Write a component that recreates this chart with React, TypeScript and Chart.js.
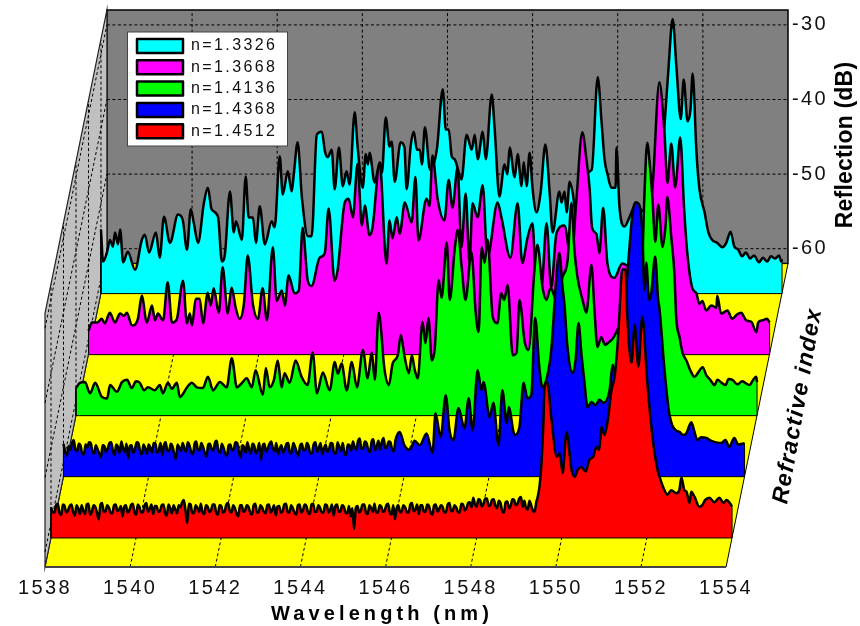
import React, { useEffect, useRef } from "react";
import { Chart, registerables } from "chart.js";

Chart.register(...registerables);

const FONT = "'Liberation Sans', Arial, sans-serif";
const xTickValues = [1538, 1540, 1542, 1544, 1546, 1548, 1550, 1552, 1554];
const yTickValues = [-30, -40, -50, -60];

// shared sampling of the low-level noise floor (nm)
const noiseWl = [
  1538.0,1538.08,1538.16,1538.24,1538.32,1538.4,1538.48,1538.56,1538.64,1538.72,
  1538.8,1538.88,1538.96,1539.04,1539.12,1539.2,1539.28,1539.36,1539.44,1539.52,
  1539.6,1539.68,1539.76,1539.84,1539.92,1540.0,1540.08,1540.16,1540.24,1540.32,
  1540.4,1540.48,1540.56,1540.64,1540.72,1540.8,1540.88,1540.96,1541.04,1541.12,
  1541.2,1541.28,1541.36,1541.44,1541.52,1541.6,1541.68,1541.76,1541.84,1541.92,
  1542.0,1542.08,1542.16,1542.24,1542.32,1542.4,1542.48,1542.56,1542.64,1542.72,
  1542.8,1542.88,1542.96,1543.04,1543.12,1543.2,1543.28,1543.36,1543.44,1543.52,
  1543.6,1543.68,1543.76,1543.84,1543.92,1544.0,1544.08,1544.16,1544.24,1544.32,
  1544.4,1544.48,1544.56,1544.64,1544.72,1544.8,1544.88,1544.96,1545.04,1545.12,
  1545.2,1545.28,1545.36,1545.44,1545.52,1545.6,1545.68,1545.76,1545.84,1545.92,
  1546.0,1546.08,1546.16,1546.24,1546.32,1546.4,1546.48,1546.56,1546.64,1546.72,
  1546.8,1546.88,1546.96,1547.04,1547.12,1547.2,1547.28,1547.36,1547.44,1547.52,
  1547.6,1547.68,1547.76,1547.84,1547.92,1548.0,1548.08,1548.16,1548.24,1548.32,
  1548.4,1548.48,1548.56,1548.64,1548.72,1548.8,1548.88,1548.96,1549.04,1549.12,
  1549.2,1549.28,1549.36,
];
const noiseMidWl = [
  1538.04,1538.12,1538.2,1538.28,1538.36,1538.44,1538.52,1538.6,1538.68,1538.76,
  1538.84,1538.92,1539.0,1539.08,1539.16,1539.24,1539.32,1539.4,1539.48,1539.56,
  1539.64,1539.72,1539.8,1539.88,1539.96,1540.04,1540.12,1540.2,1540.28,1540.36,
  1540.44,1540.52,1540.6,1540.68,1540.76,1540.84,1540.92,1541.0,1541.08,1541.16,
  1541.24,1541.32,1541.4,1541.48,1541.56,1541.64,1541.72,1541.8,1541.88,1541.96,
  1542.04,1542.12,1542.2,1542.28,1542.36,1542.44,1542.52,1542.6,1542.68,1542.76,
  1542.84,1542.92,1543.0,1543.08,1543.16,1543.24,1543.32,1543.4,1543.48,1543.56,
  1543.64,1543.72,1543.8,1543.88,1543.96,1544.04,1544.12,1544.2,1544.28,1544.36,
  1544.44,1544.52,1544.6,1544.68,1544.76,1544.84,1544.92,1545.0,1545.08,1545.16,
  1545.24,1545.32,1545.4,1545.48,1545.56,1545.64,1545.72,1545.8,1545.88,1545.96,
  1546.04,1546.12,1546.2,1546.28,1546.36,1546.44,1546.52,1546.6,1546.68,1546.76,
  1546.84,1546.92,1547.0,1547.08,1547.16,1547.24,1547.32,1547.4,1547.48,1547.56,
  1547.64,1547.72,1547.8,1547.88,1547.96,1548.04,1548.12,1548.2,1548.28,1548.36,
  1548.44,1548.52,1548.6,1548.68,1548.76,1548.84,1548.92,1549.0,1549.08,1549.16,
  1549.24,1549.32,1549.4,
];

const cyanWl = [
  1538.0,1538.05,1538.14,1538.21,1538.28,1538.33,1538.4,1538.45,1538.52,1538.63,1538.8,1538.96,1539.03,1539.13,1539.29,1539.38,1539.48,1539.62,1539.81,1539.92,
  1540.02,1540.11,1540.18,1540.28,1540.42,1540.51,1540.6,1540.75,1540.84,1540.91,1541.03,1541.12,1541.17,1541.31,1541.4,1541.47,1541.57,1541.64,1541.73,1541.85,
  1542.01,1542.08,1542.2,1542.27,1542.39,1542.48,1542.53,1542.62,1542.72,1542.86,1542.95,1543.07,1543.19,1543.26,1543.33,1543.42,1543.49,1543.59,1543.68,1543.77,1543.84,1543.96,
  1544.03,1544.15,1544.22,1544.27,1544.31,1544.43,1544.55,1544.6,1544.69,1544.78,1544.83,1544.9,1545.04,1545.13,1545.18,1545.28,1545.35,1545.42,1545.49,1545.54,1545.61,1545.73,1545.89,
  1546.03,1546.1,1546.17,1546.24,1546.31,1546.47,1546.59,1546.71,1546.78,1546.85,1546.97,1547.04,1547.18,1547.25,1547.36,1547.48,1547.55,1547.6,1547.72,1547.79,1547.88,1547.93,
  1548.0,1548.07,1548.14,1548.23,1548.33,1548.44,1548.54,1548.61,1548.77,1548.82,1548.89,1548.94,1549.01,1549.08,1549.2,1549.24,1549.53,1549.67,1549.76,1549.83,1549.9,1549.99,
  1550.09,1550.11,1550.18,1550.3,1550.42,1550.54,1550.89,1551.12,1551.24,1551.33,1551.43,1551.52,1551.62,1551.69,1551.78,1551.85,1551.9,1551.99,
  1552.06,1552.18,1552.27,1552.36,1552.48,1552.6,1552.69,1552.79,1552.88,1552.97,1553.06,1553.15,1553.25,1553.34,1553.46,1553.55,1553.65,1553.74,1553.83,1553.93,1553.98,1554.0,
];
const cyanDb = [
  -53.4,-57.7,-56.5,-54.8,-55.7,-53.8,-55.4,-53.4,-57.8,-56.4,-58.8,-54.8,-54.1,-56.5,-53.8,-57.2,-51.7,-55.2,-51.4,-52.1,
  -56.1,-50.7,-52.5,-55.2,-49.8,-47.8,-50.7,-51.7,-57.7,-56.8,-48.3,-53.8,-52.3,-54.8,-46.3,-51.8,-51.8,-55.2,-50.3,-55.4,
  -52.3,-53.1,-43.6,-48.7,-45.6,-48.3,-46,-41.7,-49.1,-54.3,-54.3,-40.7,-40.3,-42.9,-43.7,-42.7,-48,-42.4,-47.6,-45.6,-47.4,-37.7,
  -42.4,-47.8,-43.3,-44.7,-43.1,-47.1,-44.4,-45.8,-38.4,-42.3,-41.6,-47,-41.7,-42.4,-48,-42,-40.3,-42.7,-42.7,-44.7,-39.7,-45.4,-42.7,
  -34.6,-40,-40,-43.6,-44,-46.7,-40.7,-42.7,-40.7,-44,-40.3,-44,-35.3,-40,-49,-44.7,-46,-42.4,-46.4,-43.3,-47.6,-44.4,
  -47.6,-43.1,-48,-51.1,-48.4,-42,-48.4,-53.8,-48.3,-49.8,-48.3,-51.1,-47,-48.4,-53,-46.7,-45.4,-33,-39,-44,-46,-47.8,
  -47.8,-42.4,-50.3,-53,-51.7,-50.3,-51.4,-46.7,-39.3,-32,-25.2,-31.7,-38.6,-33.3,-38.9,-37.3,-32.5,-43.1,
  -48,-51.1,-53.8,-54.8,-55.2,-55.8,-55.2,-53.7,-55.7,-56.1,-57,-56.5,-57.3,-56.9,-57.8,-57.2,-57.7,-57,-57.3,-56.9,-57.7,-57.4,
];

const magentaWl = [
  1538.0,1538.08,1538.2,1538.31,1538.38,1538.5,1538.62,1538.74,1538.83,1538.9,1539.02,1539.16,1539.25,1539.37,1539.49,1539.56,1539.63,1539.75,1539.86,1539.96,
  1540.07,1540.22,1540.31,1540.38,1540.43,1540.52,1540.61,1540.69,1540.8,1540.87,1540.94,1541.06,1541.15,1541.27,1541.36,1541.46,1541.55,1541.65,1541.74,1541.86,1541.98,
  1542.09,1542.19,1542.33,1542.42,1542.54,1542.61,1542.7,1542.84,1542.94,1543.03,1543.15,1543.24,1543.43,1543.55,1543.64,1543.78,1543.85,
  1544.02,1544.11,1544.21,1544.32,1544.42,1544.49,1544.6,1544.67,1544.84,1545.0,1545.07,1545.14,1545.24,1545.31,1545.43,1545.59,1545.68,1545.75,1545.94,
  1546.01,1546.08,1546.2,1546.36,1546.46,1546.55,1546.67,1546.76,1546.86,1546.95,1547.02,1547.14,1547.26,1547.37,1547.61,1547.7,1547.91,
  1548.08,1548.19,1548.31,1548.43,1548.52,1548.64,1548.76,1548.87,1548.99,1549.18,1549.34,1549.46,1549.6,1549.7,1549.77,1549.83,1549.93,
  1550.0,1550.09,1550.19,1550.35,1550.54,1550.75,1550.94,1551.13,1551.25,1551.41,1551.53,1551.6,1551.69,1551.78,1551.9,1551.99,
  1552.06,1552.18,1552.28,1552.35,1552.42,1552.51,1552.63,1552.75,1552.77,1552.86,1553.01,1553.12,1553.24,1553.33,1553.45,1553.57,1553.69,1553.73,1553.83,1553.94,1554.0,
];
const magentaDb = [
  -58.8,-57.7,-57.7,-57.2,-57.8,-56.4,-57.7,-56.5,-56.8,-56.4,-58.1,-57.2,-54.1,-57.7,-55.4,-57.4,-56.5,-57.4,-52.3,-57.7,
  -57.3,-52.1,-57.8,-56.5,-58.1,-54.5,-54.5,-57.8,-53.7,-55.4,-53.1,-56.4,-50.3,-56.5,-53,-55.8,-57.2,-55.2,-48.7,-55.2,-57.2,
  -53.1,-57.4,-47.6,-54.8,-53.4,-55.4,-51.4,-53.8,-53.4,-45,-52.1,-52.8,-49,-48.4,-42.4,-52.1,-50.7,
  -41.6,-41.1,-43.6,-36.4,-44.7,-42,-46,-45,-36.4,-49.8,-44,-46.4,-43.6,-45.8,-41.6,-44.3,-38.2,-46.7,-41.1,
  -42.1,-35.3,-41.1,-44,-38.6,-42.3,-36.9,-47.6,-40.4,-49.7,-41.7,-43.6,-39.3,-49,-41.6,-43.6,-49,
  -41.7,-49.7,-46.4,-44.4,-53,-53,-44.4,-53,-45.8,-44.7,-49.4,-41.3,-32.2,-36,-39.6,-45,-45.8,
  -48.4,-42.3,-49.8,-51.7,-49.8,-50.3,-48.7,-44.7,-39.6,-25.5,-32.3,-39,-33.7,-39.6,-32.9,-42.3,
  -48,-53,-53.8,-55.2,-54.8,-56.1,-55.4,-55.7,-54.1,-56.5,-56.1,-57.2,-56.6,-56.4,-57.4,-57.6,-59,-57.7,-57.4,-57.2,-57.7,
];

const greenWl = [
  1538.0,1538.09,1538.21,1538.33,1538.45,1538.61,1538.73,1538.8,1538.96,1539.08,1539.2,1539.31,1539.41,1539.5,1539.6,1539.69,1539.85,1539.97,
  1540.04,1540.16,1540.25,1540.37,1540.44,1540.61,1540.72,1540.84,1540.98,1541.1,1541.22,1541.38,1541.54,1541.66,1541.78,1541.9,
  1542.01,1542.13,1542.22,1542.39,1542.46,1542.55,1542.65,1542.74,1542.83,1542.9,1543.02,1543.16,1543.3,1543.44,1543.56,1543.66,1543.8,1543.96,
  1544.08,1544.15,1544.24,1544.36,1544.48,1544.6,1544.74,1544.85,1544.95,1545.02,1545.11,1545.25,1545.35,1545.44,1545.56,1545.63,1545.72,1545.82,1545.89,1545.96,
  1546.03,1546.14,1546.21,1546.28,1546.36,1546.43,1546.52,1546.59,1546.71,1546.78,1546.9,1546.97,1547.06,1547.15,1547.29,1547.39,1547.46,1547.53,1547.6,1547.67,1547.79,1547.9,1547.99,
  1548.06,1548.14,1548.26,1548.35,1548.42,1548.54,1548.63,1548.77,1548.84,1548.96,1549.05,1549.15,1549.29,1549.43,1549.55,1549.64,1549.71,1549.78,1549.9,1549.99,
  1550.11,1550.18,1550.25,1550.34,1550.43,1550.53,1550.62,1550.72,1550.81,1551.0,1551.19,1551.31,1551.35,1551.42,1551.49,1551.54,1551.61,1551.68,1551.78,1551.85,1551.89,1551.99,
  1552.06,1552.1,1552.18,1552.25,1552.34,1552.43,1552.53,1552.62,1552.72,1552.81,1552.9,1553.0,1553.07,1553.17,1553.26,1553.33,1553.42,1553.54,1553.65,1553.82,1553.91,1553.98,1554.0,
];
const greenDb = [
  -58.3,-57.6,-57.5,-59,-57.6,-59.5,-59.7,-57.9,-58.8,-57.5,-57.2,-58.3,-57.4,-57.6,-58.6,-58.2,-58.6,-57.9,
  -59,-57.6,-58.4,-57.6,-59.5,-58.2,-57.6,-58.2,-58.3,-56.8,-58.6,-57.5,-58.2,-54.3,-58.2,-57.6,
  -57,-58.2,-55.9,-59.2,-55.6,-58.2,-57.2,-54.6,-58.2,-56.3,-57.6,-54.6,-56.8,-57.9,-53.5,-59,-56.2,-58.6,
  -54.8,-56.4,-55,-58.6,-54.8,-58.2,-53.2,-57,-53.5,-57.2,-48.2,-55.9,-57.9,-55,-53.9,-51.2,-54.1,-56.3,-53.9,-55.9,
  -57,-49.4,-52.3,-48.9,-54.6,-52.9,-43.8,-46.2,-38.8,-46.5,-39.5,-37.1,-42.1,-46.5,-40.1,-48.2,-50.8,-39.4,-41.5,-38.4,-48.8,-49.6,-45.6,
  -46.5,-44.5,-53.9,-53.6,-46.5,-52.1,-53.2,-42.5,-39.1,-44.8,-46.5,-44.9,-46.5,-43.4,-41.1,-33.5,-39.8,-43.4,-46.5,-48.2,
  -41.8,-47.8,-52.8,-51.5,-52.5,-52.1,-51.6,-50.5,-49.2,-46.5,-43.8,-40.2,-33.1,-25.4,-29,-32.7,-38.7,-33.7,-39.4,-36.5,-32.7,-38.4,
  -43.1,-48.8,-51.5,-53.6,-54.6,-55.9,-56.8,-56.2,-55.5,-56.6,-57.2,-57.9,-57.2,-57.6,-57.9,-57.1,-57.2,-57.8,-57.4,-57.9,-57.2,-56.8,-57.5,
];

const blueNoiseDb = [
  -57.6,-59.2,-58.4,-57.1,-58.6,-57.8,-59.0,-58.1,-57.5,-58.9,
  -58.3,-59.4,-57.9,-58.2,-57.4,-59.1,-58.0,-57.3,-58.7,-59.5,
  -57.8,-58.3,-57.5,-59.0,-58.2,-57.7,-58.8,-57.6,-58.4,-59.1,
  -57.4,-58.6,-57.9,-59.6,-58.1,-57.5,-58.7,-57.8,-59.0,-57.3,
  -58.4,-58.0,-59.3,-57.6,-58.5,-57.2,-58.8,-58.1,-59.2,-57.7,
  -58.3,-57.5,-59.4,-58.0,-57.4,-58.9,-57.8,-58.4,-59.7,-57.6,
  -58.2,-57.3,-58.6,-59.0,-57.8,-58.3,-57.5,-58.7,-58.0,-59.2,
  -57.6,-58.4,-57.9,-58.8,-57.4,-58.1,-59.0,-57.7,-58.3,-57.6,
  -58.9,-58.0,-57.5,-59.1,-57.8,-57.3,-58.4,-56.9,-58.2,-57.5,
  -58.7,-57.0,-57.9,-58.4,-56.8,-58.0,-57.4,-58.6,
];
const blueNoiseMidDb = [
  -58.7,-57.9,-57.5,-58.4,-57.6,-58.9,-57.7,-57.4,-58.6,-57.8,
  -58.9,-57.8,-58.7,-57.5,-58.5,-57.7,-58.8,-58.2,-57.6,-57.9,
  -58.8,-57.4,-58.6,-57.7,-58.9,-58.1,-57.5,-58.8,-57.5,-57.8,
  -58.5,-57.6,-58.9,-57.7,-58.6,-58.2,-57.4,-58.7,-57.6,-58.5,
  -57.5,-58.8,-57.7,-58.3,-57.4,-58.6,-57.6,-58.9,-57.8,-58.5,
  -57.4,-58.6,-57.8,-58.8,-58.3,-57.6,-58.9,-57.5,-57.9,-58.7,
  -57.6,-58.2,-57.5,-58.2,-58.8,-57.6,-58.9,-57.5,-58.7,-57.8,
  -58.5,-57.5,-58.9,-57.6,-58.7,-57.5,-58.2,-58.7,-57.5,-58.9,
  -57.4,-58.6,-58.8,-57.7,-58.5,-58.0,-57.2,-58.3,-57.3,-58.4,
  -57.3,-58.5,-57.2,-57.3,-58.2,-57.3,-58.3,-57.1,
];
const bluePeakWl = [
  1545.9,1546.01,1546.13,1546.25,1546.37,1546.53,1546.67,1546.74,1546.86,1546.98,1547.07,1547.16,1547.28,1547.42,1547.52,1547.61,1547.73,1547.82,1547.87,
  1548.01,1548.1,1548.22,1548.31,1548.41,1548.46,1548.6,1548.71,1548.81,1548.9,1548.99,1549.08,1549.18,1549.25,1549.37,1549.46,1549.58,1549.65,1549.72,1549.77,1549.84,1549.96,
  1550.03,1550.1,1550.17,1550.24,1550.31,1550.4,1550.5,1550.59,1550.69,1550.83,1550.9,1550.99,1551.11,1551.22,1551.37,1551.44,1551.53,1551.6,1551.65,1551.69,1551.76,1551.81,1551.9,1551.97,
  1552.0,1552.12,1552.23,1552.3,1552.39,1552.47,1552.56,1552.63,1552.75,1552.82,1552.89,1552.98,1553.1,1553.22,1553.33,1553.45,1553.55,1553.64,1553.76,1553.85,1554.0,
];
const bluePeakDb = [
  -56,-57.8,-58.4,-57.2,-57.8,-56.2,-58.8,-53.5,-56.7,-51.1,-55.8,-57.1,-52.8,-55.5,-51.5,-55.8,-47.7,-50.4,-49.3,
  -54,-52.1,-57.8,-50.4,-54.8,-52.7,-56.4,-55.4,-49.4,-51.5,-51.1,-40.7,-47.4,-50,-48.4,-45,-35.2,-32,-36.3,-39,-44.6,-48.1,
  -46.4,-41.4,-45.7,-49.4,-52.7,-52,-52.4,-51.7,-52.1,-50.4,-47,-48.6,-45,-37,-26.6,-25.2,-25.6,-29.3,-37,-33.3,-38.3,-37.4,-32.5,-38.3,
  -39.4,-47.7,-53.5,-55.1,-55.8,-56,-56.4,-56.2,-54.7,-55.9,-57.1,-56.7,-56.8,-57.2,-57.4,-57.5,-57.1,-58,-56.8,-57.7,-57.5,
];

const redNoiseDb = [
  -57.9,-58.6,-57.4,-58.9,-57.7,-58.3,-57.5,-59.0,-58.0,-57.6,
  -58.8,-57.4,-58.5,-57.8,-59.5,-57.3,-58.4,-57.9,-58.7,-57.5,
  -58.2,-59.1,-57.6,-58.3,-57.4,-58.9,-57.9,-58.5,-57.3,-58.1,
  -58.8,-57.7,-58.4,-57.5,-59.0,-58.0,-57.6,-58.7,-57.9,-56.9,
  -60.0,-57.5,-58.6,-58.0,-57.4,-58.8,-57.8,-58.3,-57.5,-58.9,
  -57.7,-58.4,-57.3,-58.6,-58.0,-59.1,-57.6,-58.3,-57.8,-58.9,
  -57.4,-58.5,-57.9,-58.7,-57.5,-58.2,-59.0,-57.7,-58.4,-57.4,
  -58.6,-58.0,-58.9,-57.5,-58.3,-57.7,-58.8,-57.4,-58.5,-57.9,
  -58.6,-57.6,-58.2,-59.0,-57.5,-58.4,-57.8,-58.7,-59.1,-60.8,
  -57.7,-58.3,-57.5,-58.8,-58.0,-57.4,-58.6,-57.8,-58.3,-57.4,
  -58.9,-59.5,-57.6,-58.4,-57.9,-58.6,-57.3,-58.2,-58.8,-57.6,
  -58.4,-57.7,-58.9,-57.5,-58.1,-57.8,-58.5,-57.3,-58.3,-57.9,
  -58.6,-57.5,-58.0,-57.2,-56.6,-57.8,-56.9,-57.4,-56.7,-57.6,
  -56.8,-58.0,-57.3,-58.6,-57.1,-57.7,-56.9,-57.4,-56.5,-57.0,
  -58.2,-57.6,-58.5,
];
const redNoiseMidDb = [
  -58.5,-57.6,-58.7,-57.5,-58.6,-57.7,-58.5,-57.6,-58.8,-58.4,
  -57.5,-58.9,-57.6,-58.6,-57.6,-58.5,-57.6,-58.6,-57.6,-58.4,
  -57.7,-57.8,-58.6,-57.6,-58.5,-57.5,-58.6,-57.6,-58.5,-57.5,
  -57.7,-58.5,-57.6,-58.6,-57.5,-58.7,-58.2,-57.6,-57.2,-58.3,
  -57.4,-58.7,-57.6,-58.5,-58.6,-57.6,-58.5,-57.5,-58.6,-57.6,
  -58.6,-57.5,-58.4,-57.6,-58.7,-57.6,-58.5,-57.6,-58.6,-57.6,
  -58.6,-57.6,-58.5,-57.6,-58.6,-57.6,-57.8,-58.6,-57.5,-58.5,
  -57.6,-58.6,-57.6,-58.6,-57.5,-58.6,-57.5,-58.5,-57.6,-58.6,
  -57.5,-58.6,-57.5,-57.7,-58.5,-57.6,-58.6,-57.7,-58.0,-58.0,
  -58.6,-57.5,-58.6,-57.6,-58.5,-58.6,-57.6,-58.5,-57.6,-58.6,
  -57.6,-58.0,-58.6,-57.6,-58.5,-57.5,-58.4,-57.5,-57.6,-58.5,
  -57.5,-58.6,-57.6,-58.5,-57.6,-58.6,-57.5,-58.4,-57.6,-58.5,
  -57.4,-58.3,-57.3,-57.9,-57.5,-56.8,-57.8,-56.7,-57.7,-56.9,
  -57.7,-57.0,-58.4,-57.2,-58.0,-56.8,-57.6,-56.7,-57.8,-58.0,
  -57.0,-58.3,-57.2,
];
const redPeakWl = [
  1549.43,1549.48,1549.52,1549.57,1549.59,1549.64,1549.66,1549.76,1549.88,1549.95,
  1550.02,1550.11,1550.23,1550.3,1550.37,1550.46,1550.56,1550.65,1550.74,1550.81,1550.88,1550.93,
  1551.0,1551.07,1551.17,1551.24,1551.31,1551.35,1551.42,1551.5,1551.54,1551.64,1551.71,1551.8,1551.89,
  1552.01,1552.13,1552.25,1552.32,1552.39,1552.48,1552.57,1552.69,1552.76,1552.81,1552.88,1552.93,
  1553.0,1553.04,1553.12,1553.23,1553.3,1553.37,1553.47,1553.58,1553.7,1553.8,1553.87,1553.98,1554.0,
];
const redPeakDb = [
  -56.6,-54.9,-52.2,-46.2,-42.1,-41.2,-41.2,-46.2,-51.1,-50.6,
  -53.3,-47.8,-52.9,-53.8,-52.9,-52.5,-53.1,-51.5,-51.1,-49.8,-50.2,-47.1,
  -48.2,-46.6,-42.1,-40.4,-36.1,-32.3,-26,-26,-32.3,-38.5,-33.4,-39,-32.3,
  -41.2,-48.4,-52.9,-54.2,-55.3,-56.2,-55.6,-56,-55.6,-53.9,-55.6,-55.8,
  -57.3,-55.8,-56.5,-57.8,-57.6,-56.9,-56.6,-57.2,-56.6,-57.3,-56.9,-57.6,-57.8,
];

const weave = (a: number[], b: number[]) => a.flatMap((v, i) => [v, b[i]]);

const seriesNames = ["n=1.3326", "n=1.3668", "n=1.4136", "n=1.4368", "n=1.4512"];
const seriesColors = ["#00ffff", "#ff00ff", "#00ff00", "#0000ff", "#ff0000"];
const seriesWl = [
  cyanWl,
  magentaWl,
  greenWl,
  [...weave(noiseWl.slice(0, blueNoiseDb.length), noiseMidWl), ...bluePeakWl],
  [...weave(noiseWl, noiseMidWl), ...redPeakWl],
];
const seriesDb = [
  cyanDb,
  magentaDb,
  greenDb,
  [...weave(blueNoiseDb, blueNoiseMidDb), ...bluePeakDb],
  [...weave(redNoiseDb, redNoiseMidDb), ...redPeakDb],
];

// oblique projection: each ribbon sits forward of the back wall
const depthNm = [1.315, 1.023, 0.728, 0.434, 0.141];
const dropDb = [4.02, 12.2, 20.38, 28.56, 36.78];
const backNm = 1.455;
const backDb = 40.67;
const floorDb = -62;
const topDb = -28;
const wlMin = 1538;
const wlMax = 1554;

const wallPlugin = {
  id: "walls",
  beforeDraw(chart: any) {
    const { ctx, scales } = chart;
    (ctx as any).letterSpacing = "2.4px";
    const P = (nm: number, db: number): [number, number] => [
      scales.x.getPixelForValue(nm),
      scales.y.getPixelForValue(db),
    ];
    const poly = (pts: [number, number][], fill: string | null, stroke: string, w: number) => {
      ctx.beginPath();
      pts.forEach((p, i) => (i ? ctx.lineTo(p[0], p[1]) : ctx.moveTo(p[0], p[1])));
      ctx.closePath();
      if (fill) {
        ctx.fillStyle = fill;
        ctx.fill();
      }
      ctx.strokeStyle = stroke;
      ctx.lineWidth = w;
      ctx.stroke();
    };
    const seg = (a: [number, number], b: [number, number]) => {
      ctx.beginPath();
      ctx.moveTo(a[0], a[1]);
      ctx.lineTo(b[0], b[1]);
      ctx.stroke();
    };
    ctx.save();
    const low = floorDb - backDb;
    poly([P(wlMin + backNm, floorDb), P(wlMax + backNm, floorDb), P(wlMax + backNm, topDb), P(wlMin + backNm, topDb)], "#808080", "#000", 1.5);
    poly([P(wlMin, low), P(wlMax, low), P(wlMax + backNm, floorDb), P(wlMin + backNm, floorDb)], "#ffff00", "#000", 1);
    poly([P(wlMin, low), P(wlMin + backNm, floorDb), P(wlMin + backNm, topDb), P(wlMin, topDb - backDb)], "#c0c0c0", "#222", 1.2);

    ctx.setLineDash([3, 2.5]);
    ctx.strokeStyle = "#000";
    ctx.lineWidth = 1;
    yTickValues.forEach((v) => {
      seg(P(wlMin + backNm, v), P(wlMax + backNm, v));
      seg(P(wlMin, v - backDb), P(wlMin + backNm, v));
    });
    xTickValues.forEach((v) => {
      if (v > wlMin && v < wlMax) {
        seg(P(v + backNm, floorDb), P(v + backNm, topDb));
        seg(P(v, low), P(v + backNm, floorDb));
      }
    });
    depthNm.forEach((dn, i) => {
      seg(P(wlMin + dn, floorDb - dropDb[i]), P(wlMin + dn, topDb - dropDb[i]));
    });
    ctx.setLineDash([]);
    ctx.strokeStyle = "#444";
    ctx.lineWidth = 2;
    seg(P(wlMin, low), P(wlMax, low));

    // legend frame
    ctx.fillStyle = "#fff";
    ctx.strokeStyle = "#444";
    ctx.lineWidth = 1;
    ctx.fillRect(127.5, 32, 160, 114);
    ctx.strokeRect(127.5, 32, 160, 114);
    ctx.restore();
  },
  afterLayout(chart: any) {
    chart.legend.left = 131.7;
    chart.legend.top = 32.7;
  },
  afterDraw(chart: any) {
    const { ctx } = chart;
    const label = (t: string, x: number, y: number, rot: number, font: string, sp: string) => {
      ctx.save();
      ctx.translate(x, y);
      ctx.rotate(rot);
      (ctx as any).letterSpacing = sp;
      ctx.font = font;
      ctx.fillStyle = "#000";
      ctx.textAlign = "center";
      ctx.textBaseline = "middle";
      ctx.fillText(t, 0, 0);
      ctx.restore();
    };
    label("Wavelength (nm)", 382, 614, 0, `bold 20px ${FONT}`, "4.1px");
    label("Reflection (dB)", 846, 145, -Math.PI / 2, `bold 23px ${FONT}`, "0.2px");
    label("Refractive index", 798, 406, (-80 * Math.PI) / 180, `italic bold 23px ${FONT}`, "1.3px");
  },
};

const noPadding = (s: any) => {
  s.paddingTop = 0;
  s.paddingBottom = 0;
  s.paddingLeft = 0;
  s.paddingRight = 0;
};

export default function App() {
  const ref = useRef<HTMLCanvasElement | null>(null);
  useEffect(() => {
    if (!ref.current) return;
    const datasets: any[] = [];
    seriesNames.forEach((name, i) => {
      const wl = seriesWl[i];
      const db = seriesDb[i];
      const dn = depthNm[i];
      const dd = dropDb[i];
      const base = floorDb - dd;
      datasets.push({
        label: name,
        data: wl.map((w, k) => ({ x: w + dn, y: db[k] - dd })),
        borderColor: "#000",
        backgroundColor: seriesColors[i],
        borderWidth: 2.5,
        borderJoinStyle: "round",
        pointRadius: 0,
        cubicInterpolationMode: "monotone",
        fill: { target: { value: base } },
        order: 2 * (5 - i),
        clip: false,
      });
      datasets.push({
        label: "",
        data: [
          { x: wl[0] + dn, y: db[0] - dd },
          { x: wl[0] + dn, y: base },
          { x: wl[wl.length - 1] + dn, y: base },
          { x: wl[wl.length - 1] + dn, y: db[db.length - 1] - dd },
        ],
        borderColor: "#000",
        borderWidth: 1,
        pointRadius: 0,
        fill: false,
        tension: 0,
        order: 2 * (5 - i) - 1,
        clip: false,
      });
    });
    const chart = new Chart(ref.current, {
      type: "line",
      data: { datasets },
      plugins: [wallPlugin],
      options: {
        animation: false,
        responsive: false,
        parsing: false,
        normalized: true,
        layout: { padding: { left: 45, top: 10, right: 0, bottom: 0 } },
        plugins: {
          tooltip: { enabled: false },
          legend: {
            display: true,
            position: "chartArea",
            align: "start",
            labels: {
              boxWidth: 46,
              boxHeight: 14,
              padding: 5.3,
              color: "#111",
              font: { family: FONT, size: 16 },
              filter: (item: any) => !!item.text,
              sort: (a: any, b: any) => a.datasetIndex - b.datasetIndex,
            },
          },
        },
        scales: {
          x: {
            type: "linear",
            min: wlMin,
            max: wlMax + backNm,
            grid: { display: false, drawTicks: false },
            border: { display: false },
            afterFit: (s: any) => {
              s.height = 59;
              noPadding(s);
            },
            afterBuildTicks: (s: any) => {
              s.ticks = xTickValues.map((value) => ({ value }));
            },
            ticks: {
              autoSkip: false,
              maxRotation: 0,
              padding: 9,
              color: "#111",
              font: { family: FONT, size: 20 },
              callback: (v: any) => String(v),
            },
          },
          y: {
            type: "linear",
            position: "right",
            min: floorDb - backDb,
            max: topDb,
            grid: { display: false, drawTicks: false },
            border: { display: false },
            afterFit: (s: any) => {
              s.width = 72;
              noPadding(s);
            },
            afterBuildTicks: (s: any) => {
              s.ticks = yTickValues.map((value) => ({ value }));
            },
            ticks: {
              padding: 4,
              color: "#111",
              font: { family: FONT, size: 20 },
              callback: (v: any) => String(v),
            },
          },
        },
      } as any,
    });
    return () => chart.destroy();
  }, []);
  return (
    <div style={{ position: "absolute", left: 0, top: 0, width: 860, height: 626 }}>
      <canvas ref={ref} width={860} height={626} style={{ display: "block" }} />
    </div>
  );
}
